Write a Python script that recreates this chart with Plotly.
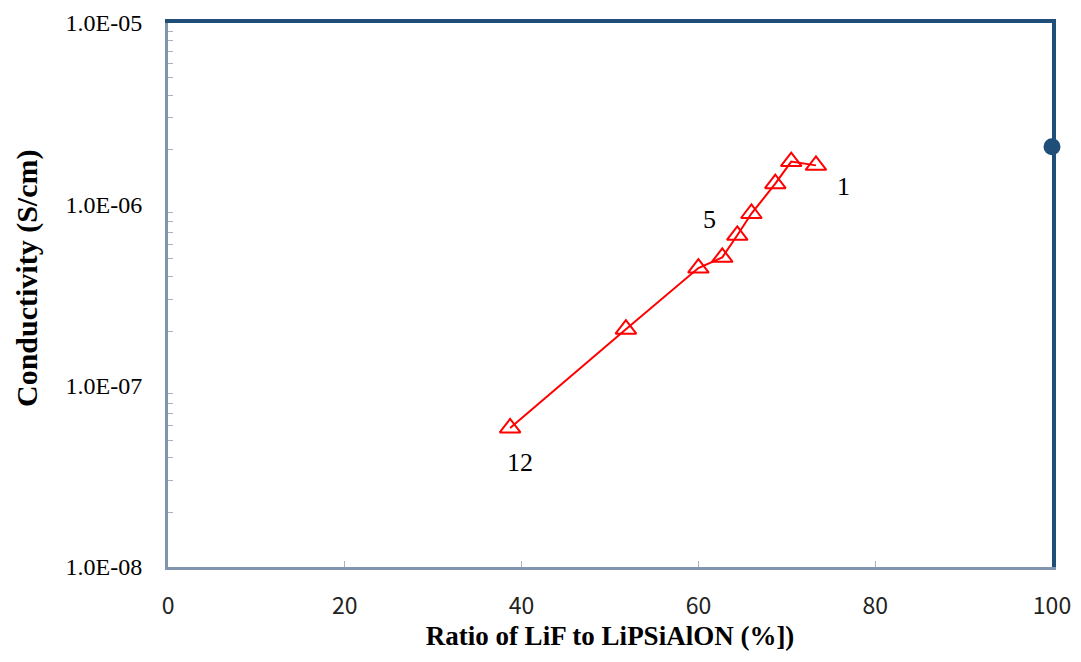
import math
import plotly.graph_objects as go

# LiF ratio (%) vs conductivity (S/cm)
ratio = [73.3, 70.5, 68.7, 66.0, 64.4, 62.7, 60.0, 51.8, 38.7]
conductivity = [1.64e-6, 1.72e-6, 1.30e-6, 8.9e-7, 6.75e-7, 5.1e-7, 4.45e-7, 2.05e-7, 5.85e-8]

# reference point (pure LiF end)
ref_ratio = [100]
ref_conductivity = [2.08e-6]

# sample number labels
label_text = ["1", "5", "12"]
label_ratio = [76.4, 61.3, 39.8]
label_cond = [1.26e-6, 8.3e-7, 3.75e-8]

y_tickvals = [1e-8, 1e-7, 1e-6, 1e-5]
y_ticktext = ["1.0E-08", "1.0E-07", "1.0E-06", "1.0E-05"]
x_tickvals = [0, 20, 40, 60, 80, 100]

minor_vals = [m * 10.0 ** e for e in (-8, -7, -6) for m in range(2, 10)]

RED = "#FF0000"
NAVY = "#1F4E79"
FRAME = "#8196AE"
serif = "Liberation Serif"

fig = go.Figure()

fig.add_trace(go.Scatter(
    x=ratio, y=conductivity, mode="lines+markers",
    line=dict(color=RED, width=2),
    marker=dict(symbol="triangle-up-open", size=18, color=RED, line=dict(color=RED, width=2)),
    showlegend=False, cliponaxis=False,
))

fig.add_trace(go.Scatter(
    x=ref_ratio, y=ref_conductivity, mode="markers",
    marker=dict(symbol="circle", size=17, color=NAVY),
    showlegend=False, cliponaxis=False,
))

# dummy trace so the overlay axes (top/right frame) are drawn
fig.add_trace(go.Scatter(x=[None], y=[None], xaxis="x2", yaxis="y2",
                         showlegend=False, hoverinfo="skip"))

for t, xv, yv in zip(label_text, label_ratio, label_cond):
    fig.add_annotation(x=xv, y=math.log10(yv), text=t, showarrow=False,
                       font=dict(family=serif, size=26, color="black"))

# y title sits a little above centre in the original, so draw it as an annotation
fig.add_annotation(xref="paper", yref="paper", x=0, y=0.5, xshift=-141, yshift=17,
                   xanchor="center", yanchor="middle",
                   text="<b>Conductivity (S/cm)</b>", textangle=-90, showarrow=False,
                   font=dict(family=serif, size=30, color="black"))

# page body has an 8px margin, so the figure is a bit smaller than the window
fig.update_layout(
    width=1073, height=654,
    margin=dict(l=160, r=29, t=15, b=95),
    plot_bgcolor="white", paper_bgcolor="white",
    xaxis=dict(
        range=[0, 100], tickvals=x_tickvals, automargin=False,
        showline=True, linecolor=FRAME, linewidth=3,
        ticks="inside", ticklen=6, tickcolor="#A6B3C4", tickwidth=1,
        showgrid=False, zeroline=False,
        tickfont=dict(family="Noto Sans CJK JP", size=23, color="#222222"),
        ticklabelstandoff=16,
        title=dict(text="<b>Ratio of LiF to LiPSiAlON (%])</b>",
                   font=dict(family=serif, size=27, color="black"), standoff=6),
    ),
    yaxis=dict(
        type="log", range=[-8, -5], tickvals=y_tickvals, ticktext=y_ticktext,
        automargin=False,
        showline=True, linecolor=FRAME, linewidth=3,
        ticks="", showgrid=False, zeroline=False,
        minor=dict(tickvals=minor_vals, ticks="inside", ticklen=5,
                   tickcolor="#A6B3C4", showgrid=False),
        tickfont=dict(family=serif, size=24, color="black"),
        ticklabelstandoff=18,
    ),
    # top / right frame drawn by overlay axes in dark blue
    xaxis2=dict(overlaying="x", side="top", range=[0, 100], showline=True,
                linecolor=NAVY, linewidth=3.5, showticklabels=False,
                ticks="", showgrid=False, zeroline=False),
    yaxis2=dict(overlaying="y", side="right", range=[-8, -5], type="log",
                showline=True, linecolor=NAVY, linewidth=4,
                showticklabels=False, ticks="", showgrid=False, zeroline=False),
)

fig.write_html("out.html")
